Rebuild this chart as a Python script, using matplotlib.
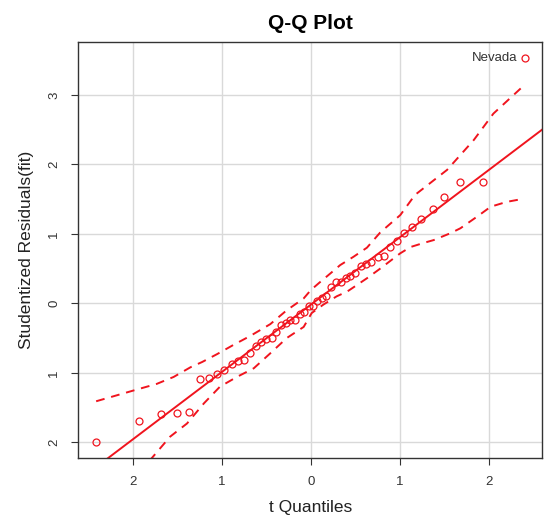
import matplotlib
matplotlib.use("Agg")
import numpy as np
import matplotlib.pyplot as plt

plt.rcParams["font.family"] = ["Liberation Sans", "DejaVu Sans"]

# -----------------------------
# Data
# -----------------------------
t_quant = [-2.41, -1.93, -1.68, -1.50, -1.37, -1.24, -1.14, -1.05, -0.97, -0.885,
           -0.82, -0.75, -0.68, -0.62, -0.56, -0.50, -0.44, -0.39, -0.335, -0.28,
           -0.23, -0.175, -0.125, -0.075, -0.025,
           0.025, 0.075, 0.125, 0.175, 0.23, 0.28, 0.335, 0.39, 0.44, 0.50,
           0.56, 0.62, 0.68, 0.75, 0.82, 0.885, 0.97, 1.05, 1.14, 1.24,
           1.37, 1.50, 1.68, 1.93, 2.41]
stud_res = [-2.00, -1.70, -1.60, -1.58, -1.56, -1.09, -1.075, -1.02, -0.96, -0.88,
            -0.835, -0.81, -0.71, -0.62, -0.56, -0.52, -0.495, -0.42, -0.31, -0.28,
            -0.245, -0.24, -0.16, -0.12, -0.04,
            -0.04, 0.04, 0.07, 0.11, 0.24, 0.30, 0.30, 0.36, 0.39, 0.43,
            0.54, 0.57, 0.59, 0.67, 0.68, 0.81, 0.90, 1.01, 1.10, 1.21,
            1.36, 1.53, 1.74, 1.745, 3.53]

# envelope (dashed)
upper_x = [-2.41, -1.95, -1.73, -1.54, -1.35, -1.22, -1.05, -0.87, -0.68, -0.455,
           -0.27, -0.08, 0.0, 0.09, 0.22, 0.33, 0.48, 0.63, 0.78, 1.005, 1.17,
           1.31, 1.53, 1.83, 2.05, 2.38]
upper_y = [-1.41, -1.24, -1.16, -1.06, -0.92, -0.845, -0.73, -0.60, -0.47, -0.30,
           -0.10, 0.07, 0.19, 0.29, 0.43, 0.55, 0.67, 0.80, 1.02, 1.27, 1.56,
           1.70, 1.92, 2.35, 2.73, 3.12]
lower_x = [-2.41, -1.93, -1.78, -1.58, -1.39, -1.20, -1.02, -0.83, -0.64, -0.455,
           -0.27, -0.08, 0.01, 0.14, 0.29, 0.41, 0.63, 0.78, 1.005, 1.12, 1.27,
           1.38, 1.57, 1.68, 1.87, 2.02, 2.20, 2.37]
lower_y = [-3.10, -2.45, -2.22, -1.92, -1.73, -1.44, -1.20, -1.06, -0.935, -0.72,
           -0.50, -0.34, -0.14, -0.02, 0.10, 0.17, 0.36, 0.50, 0.72, 0.81, 0.87,
           0.91, 1.01, 1.08, 1.25, 1.39, 1.46, 1.50]

line_intercept = -0.02
line_slope = 0.97

x_ticks = [-2, -1, 0, 1, 2]
x_tick_labels = ["2", "1", "0", "1", "2"]
y_ticks = [-2, -1, 0, 1, 2, 3]
y_tick_labels = ["2", "1", "0", "1", "2", "3"]

outlier_label = "Nevada"

# -----------------------------
# Figure
# -----------------------------
fig = plt.figure(figsize=(5.44, 5.17), dpi=100)
ax = fig.add_axes([0.144, 0.115, 0.853, 0.803])

ax.set_xlim(-2.61, 2.60)
ax.set_ylim(-2.22, 3.755)

ax.grid(True, color="#d9d9d9", linewidth=1.0)
ax.set_axisbelow(True)

xs = np.array([-2.61, 2.60])
ax.plot(xs, line_intercept + line_slope * xs, color="#f0141e", lw=1.4)
ax.plot(upper_x, upper_y, color="#f0141e", lw=1.4, ls=(0, (4.5, 3.5)))
ax.plot(lower_x, lower_y, color="#f0141e", lw=1.4, ls=(0, (4.5, 3.5)))

ax.plot(t_quant, stud_res, ls="none", marker="o", markersize=5,
        markerfacecolor="none", markeredgecolor="#f0141e", markeredgewidth=0.9)

ax.annotate(outlier_label, (t_quant[-1], stud_res[-1]), xytext=(-6, 0),
            textcoords="offset points", ha="right", va="center",
            fontsize=9.5, color="#333333")

ax.set_xticks(x_ticks)
ax.set_xticklabels(x_tick_labels)
ax.set_yticks(y_ticks)
ax.set_yticklabels(y_tick_labels, rotation=90, va="center")

ax.tick_params(axis="both", direction="out", length=5, width=0.8,
               colors="#333333", labelsize=9.5, pad=8)
for s in ax.spines.values():
    s.set_color("#333333")
    s.set_linewidth(1.0)

ax.set_title("Q-Q Plot", fontsize=15, fontweight="bold", pad=10)
ax.set_xlabel("t Quantiles", fontsize=12.5, color="#222222", labelpad=9)
ax.set_ylabel("Studentized Residuals(fit)", fontsize=12.5, color="#222222", labelpad=10)

fig.savefig("out.png", dpi=100)
